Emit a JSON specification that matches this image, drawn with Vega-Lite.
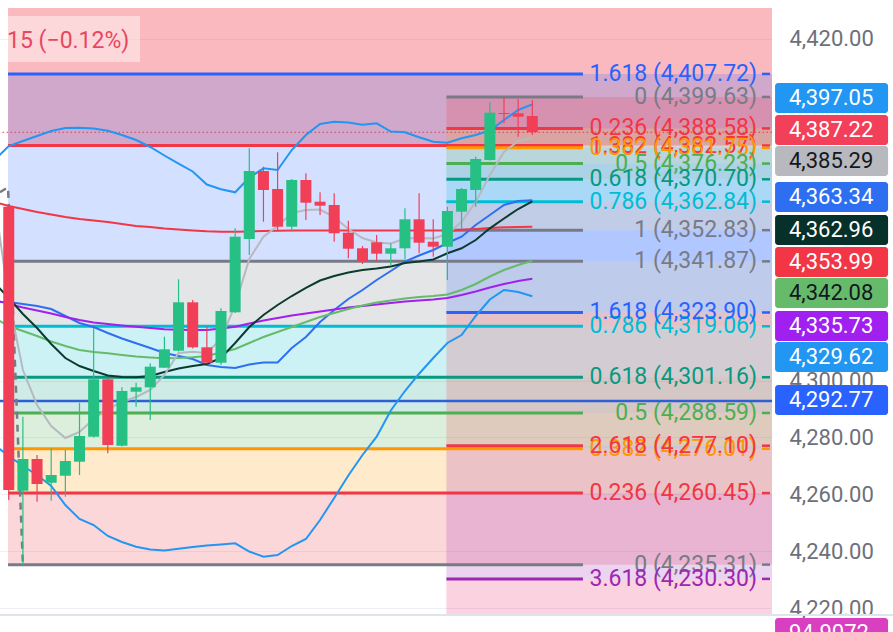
{
"$schema": "https://vega.github.io/schema/vega-lite/v6.json",
"width": 772, "height": 615, "padding": {"left": 0, "top": 0, "right": 121, "bottom": 17}, "autosize": {"type": "none"},
"background": "#ffffff",
"config": {"view": {"stroke": null}, "font": "Roboto"},
"resolve": {"scale": {"color": "independent"}, "axis": {"x": "independent", "y": "independent"}},
"datasets": {
"candles": [
{"i":0,"open":4361.07,"high":4361.67,"low":4258.01,"close":4261.53},
{"i":1,"open":4261.28,"high":4287.28,"low":4235.31,"close":4272.42},
{"i":2,"open":4272.42,"high":4273.83,"low":4257.42,"close":4263.64},
{"i":3,"open":4264.09,"high":4276.18,"low":4257.77,"close":4266.80},
{"i":4,"open":4266.55,"high":4275.58,"low":4259.17,"close":4271.72},
{"i":5,"open":4271.47,"high":4292.20,"low":4266.80,"close":4280.50},
{"i":6,"open":4280.26,"high":4318.45,"low":4279.98,"close":4300.43},
{"i":7,"open":4300.43,"high":4301.23,"low":4274.42,"close":4277.34},
{"i":8,"open":4277.09,"high":4297.61,"low":4276.81,"close":4296.31},
{"i":9,"open":4296.07,"high":4299.23,"low":4290.80,"close":4297.61},
{"i":10,"open":4297.61,"high":4306.05,"low":4286.12,"close":4304.85},
{"i":11,"open":4304.50,"high":4315.39,"low":4304.40,"close":4310.97},
{"i":12,"open":4310.47,"high":4335.56,"low":4310.19,"close":4327.48},
{"i":13,"open":4327.48,"high":4328.29,"low":4311.25,"close":4311.67},
{"i":14,"open":4311.67,"high":4318.91,"low":4305.98,"close":4306.26},
{"i":15,"open":4306.26,"high":4325.37,"low":4305.45,"close":4324.42},
{"i":16,"open":4323.97,"high":4353.48,"low":4323.72,"close":4350.53},
{"i":17,"open":4349.72,"high":4381.59,"low":4344.10,"close":4373.62},
{"i":18,"open":4373.62,"high":4375.13,"low":4355.80,"close":4366.94},
{"i":19,"open":4367.29,"high":4380.19,"low":4352.88,"close":4354.04},
{"i":20,"open":4354.04,"high":4370.80,"low":4352.18,"close":4370.45},
{"i":21,"open":4370.45,"high":4372.81,"low":4356.40,"close":4362.48},
{"i":22,"open":4362.83,"high":4366.13,"low":4358.16,"close":4361.42},
{"i":23,"open":4361.67,"high":4365.78,"low":4348.77,"close":4351.73},
{"i":24,"open":4351.94,"high":4356.15,"low":4342.94,"close":4346.31},
{"i":25,"open":4346.46,"high":4347.26,"low":4340.94,"close":4341.75},
{"i":26,"open":4348.56,"high":4351.13,"low":4341.75,"close":4344.56},
{"i":27,"open":4344.56,"high":4348.21,"low":4340.24,"close":4346.46},
{"i":28,"open":4346.46,"high":4360.51,"low":4342.59,"close":4356.64},
{"i":29,"open":4356.64,"high":4365.78,"low":4344.70,"close":4348.42},
{"i":30,"open":4348.77,"high":4356.64,"low":4343.50,"close":4347.02},
{"i":31,"open":4347.02,"high":4361.07,"low":4335.32,"close":4359.56},
{"i":32,"open":4359.32,"high":4367.64,"low":4353.48,"close":4367.29},
{"i":33,"open":4366.94,"high":4378.64,"low":4361.07,"close":4377.83},
{"i":34,"open":4377.48,"high":4397.75,"low":4377.30,"close":4394.10},
{"i":35,"open":4394.00,"high":4399.63,"low":4390.38,"close":4393.64},
{"i":36,"open":4393.89,"high":4398.81,"low":4385.67,"close":4392.69},
{"i":37,"open":4392.94,"high":4398.56,"low":4386.27,"close":4387.22}
],
"lines": [
{"i":-1,"bbU":4377.48,"bbL":4277.34,"bbM":4327.59,"red":4362.72,"blk":4334.26,"grn":4321.96,"pur":4328.29,"gry":4363.43},
{"i":0,"bbU":4382.40,"bbL":4273.48,"bbM":4327.59,"red":4361.32,"blk":4328.99,"grn":4319.15,"pur":4326.88,"gry":4328.29},
{"i":1,"bbU":4384.16,"bbL":4269.96,"bbM":4326.88,"red":4360.26,"blk":4323.37,"grn":4317.40,"pur":4325.65,"gry":4303.69},
{"i":2,"bbU":4385.91,"bbL":4266.80,"bbM":4326.18,"red":4359.21,"blk":4318.45,"grn":4315.64,"pur":4324.60,"gry":4291.40},
{"i":3,"bbU":4387.67,"bbL":4262.93,"bbM":4325.13,"red":4358.33,"blk":4312.83,"grn":4313.71,"pur":4323.55,"gry":4284.02},
{"i":4,"bbU":4388.72,"bbL":4256.26,"bbM":4322.67,"red":4357.45,"blk":4307.91,"grn":4312.13,"pur":4322.32,"gry":4279.80},
{"i":5,"bbU":4388.83,"bbL":4251.34,"bbM":4320.21,"red":4356.75,"blk":4305.10,"grn":4310.72,"pur":4321.26,"gry":4281.91},
{"i":6,"bbU":4388.55,"bbL":4249.23,"bbM":4318.80,"red":4356.22,"blk":4303.34,"grn":4310.02,"pur":4320.38,"gry":4286.48},
{"i":7,"bbU":4387.78,"bbL":4245.37,"bbM":4316.69,"red":4355.70,"blk":4301.76,"grn":4309.56,"pur":4319.86,"gry":4289.99},
{"i":8,"bbU":4386.27,"bbL":4243.26,"bbM":4314.76,"red":4354.99,"blk":4301.23,"grn":4308.96,"pur":4319.33,"gry":4292.45},
{"i":9,"bbU":4384.51,"bbL":4241.61,"bbM":4313.08,"red":4354.29,"blk":4301.13,"grn":4308.44,"pur":4318.91,"gry":4294.21},
{"i":10,"bbU":4382.05,"bbL":4240.62,"bbM":4311.42,"red":4353.94,"blk":4301.58,"grn":4308.09,"pur":4318.45,"gry":4296.67},
{"i":11,"bbU":4379.06,"bbL":4240.27,"bbM":4309.67,"red":4353.41,"blk":4302.99,"grn":4307.80,"pur":4317.99,"gry":4301.94},
{"i":12,"bbU":4376.25,"bbL":4240.90,"bbM":4308.61,"red":4353.06,"blk":4304.22,"grn":4307.91,"pur":4317.82,"gry":4309.67},
{"i":13,"bbU":4373.44,"bbL":4241.50,"bbM":4307.56,"red":4352.71,"blk":4305.10,"grn":4308.16,"pur":4317.75,"gry":4310.12},
{"i":14,"bbU":4368.87,"bbL":4242.03,"bbM":4305.45,"red":4352.43,"blk":4305.80,"grn":4308.61,"pur":4317.75,"gry":4309.67},
{"i":15,"bbU":4367.19,"bbL":4242.38,"bbM":4304.75,"red":4352.29,"blk":4307.91,"grn":4309.84,"pur":4318.28,"gry":4314.59},
{"i":16,"bbU":4366.13,"bbL":4242.80,"bbM":4304.40,"red":4352.29,"blk":4313.18,"grn":4311.07,"pur":4318.91,"gry":4326.53},
{"i":17,"bbU":4371.33,"bbL":4239.92,"bbM":4305.63,"red":4352.36,"blk":4318.80,"grn":4313.18,"pur":4320.03,"gry":4342.70},
{"i":18,"bbU":4374.56,"bbL":4238.09,"bbM":4306.33,"red":4352.53,"blk":4323.02,"grn":4315.29,"pur":4321.09,"gry":4350.53},
{"i":19,"bbU":4373.97,"bbL":4238.69,"bbM":4306.33,"red":4352.64,"blk":4326.53,"grn":4317.05,"pur":4321.96,"gry":4354.29},
{"i":20,"bbU":4380.99,"bbL":4241.85,"bbM":4311.42,"red":4352.71,"blk":4329.69,"grn":4318.80,"pur":4322.84,"gry":4358.86},
{"i":21,"bbU":4386.27,"bbL":4244.31,"bbM":4315.29,"red":4352.71,"blk":4332.51,"grn":4320.56,"pur":4323.55,"gry":4359.91},
{"i":22,"bbU":4390.13,"bbL":4250.99,"bbM":4320.56,"red":4352.71,"blk":4335.14,"grn":4322.32,"pur":4324.25,"gry":4360.09},
{"i":23,"bbU":4390.94,"bbL":4258.72,"bbM":4324.78,"red":4352.71,"blk":4336.72,"grn":4323.72,"pur":4324.95,"gry":4357.45},
{"i":24,"bbU":4390.66,"bbL":4266.62,"bbM":4328.64,"red":4352.71,"blk":4337.95,"grn":4325.13,"pur":4325.65,"gry":4353.24},
{"i":25,"bbU":4389.88,"bbL":4273.83,"bbM":4331.80,"red":4352.71,"blk":4338.83,"grn":4326.36,"pur":4326.18,"gry":4350.07},
{"i":26,"bbU":4390.38,"bbL":4280.26,"bbM":4335.32,"red":4352.71,"blk":4339.36,"grn":4327.41,"pur":4326.71,"gry":4348.49},
{"i":27,"bbU":4387.49,"bbL":4289.46,"bbM":4338.48,"red":4352.71,"blk":4340.06,"grn":4328.11,"pur":4327.23,"gry":4348.14},
{"i":28,"bbU":4387.21,"bbL":4296.31,"bbM":4341.75,"red":4352.71,"blk":4341.29,"grn":4328.82,"pur":4327.76,"gry":4349.90},
{"i":29,"bbU":4385.46,"bbL":4302.39,"bbM":4343.92,"red":4352.71,"blk":4341.82,"grn":4329.34,"pur":4328.11,"gry":4350.07},
{"i":30,"bbU":4383.91,"bbL":4307.91,"bbM":4345.86,"red":4352.71,"blk":4342.52,"grn":4329.69,"pur":4328.47,"gry":4349.90},
{"i":31,"bbU":4383.56,"bbL":4313.18,"bbM":4348.32,"red":4352.71,"blk":4344.70,"grn":4330.22,"pur":4328.99,"gry":4351.48},
{"i":32,"bbU":4385.11,"bbL":4315.99,"bbM":4350.53,"red":4352.99,"blk":4346.46,"grn":4331.80,"pur":4330.05,"gry":4355.70},
{"i":33,"bbU":4386.27,"bbL":4322.67,"bbM":4354.64,"red":4353.24,"blk":4349.37,"grn":4333.91,"pur":4331.28,"gry":4362.72},
{"i":34,"bbU":4387.85,"bbL":4328.47,"bbM":4358.16,"red":4353.59,"blk":4353.48,"grn":4336.55,"pur":4332.68,"gry":4372.21},
{"i":35,"bbU":4391.54,"bbL":4331.80,"bbM":4361.67,"red":4353.83,"blk":4356.93,"grn":4338.83,"pur":4333.91,"gry":4380.29},
{"i":36,"bbU":4395.05,"bbL":4331.10,"bbM":4363.07,"red":4353.91,"blk":4360.26,"grn":4340.59,"pur":4334.97,"gry":4384.16},
{"i":37,"bbU":4397.05,"bbL":4329.62,"bbM":4363.34,"red":4353.99,"blk":4362.96,"grn":4342.08,"pur":4335.73,"gry":4385.29}
],
"bands": [
{"fib":"A","start":-0.05,"lo":4235.31,"hi":4260.45,"lvl":"0.236"},
{"fib":"A","start":-0.05,"lo":4260.45,"hi":4276.01,"lvl":"0.382"},
{"fib":"A","start":-0.05,"lo":4276.01,"hi":4288.59,"lvl":"0.5"},
{"fib":"A","start":-0.05,"lo":4288.59,"hi":4301.16,"lvl":"0.618"},
{"fib":"A","start":-0.05,"lo":4301.16,"hi":4319.06,"lvl":"0.786"},
{"fib":"A","start":-0.05,"lo":4319.06,"hi":4341.87,"lvl":"1"},
{"fib":"A","start":-0.05,"lo":4341.87,"hi":4407.72,"lvl":"1.618"},
{"fib":"B","start":30.93,"lo":4388.58,"hi":4399.63,"lvl":"0.236"},
{"fib":"B","start":30.93,"lo":4381.75,"hi":4388.58,"lvl":"0.382"},
{"fib":"B","start":30.93,"lo":4376.23,"hi":4381.75,"lvl":"0.5"},
{"fib":"B","start":30.93,"lo":4370.70,"hi":4376.23,"lvl":"0.618"},
{"fib":"B","start":30.93,"lo":4362.84,"hi":4370.70,"lvl":"0.786"},
{"fib":"B","start":30.93,"lo":4352.83,"hi":4362.84,"lvl":"1"},
{"fib":"B","start":30.93,"lo":4323.90,"hi":4352.83,"lvl":"1.618"},
{"fib":"B","start":30.93,"lo":4277.10,"hi":4323.90,"lvl":"2.618"},
{"fib":"B","start":30.93,"lo":4230.30,"hi":4277.10,"lvl":"3.618"},
{"fib":"B","start":30.93,"lo":4200.00,"hi":4230.30,"lvl":"4.236"}
],
"levels": [
{"fib":"A","start":-0.05,"price":4235.31,"lvl":"0","label":"0 (4,235.31)"},
{"fib":"A","start":-0.05,"price":4260.45,"lvl":"0.236","label":"0.236 (4,260.45)"},
{"fib":"A","start":-0.05,"price":4276.01,"lvl":"0.382","label":"0.382 (4,276.01)"},
{"fib":"A","start":-0.05,"price":4288.59,"lvl":"0.5","label":"0.5 (4,288.59)"},
{"fib":"A","start":-0.05,"price":4301.16,"lvl":"0.618","label":"0.618 (4,301.16)"},
{"fib":"A","start":-0.05,"price":4319.06,"lvl":"0.786","label":"0.786 (4,319.06)"},
{"fib":"A","start":-0.05,"price":4341.87,"lvl":"1","label":"1 (4,341.87)"},
{"fib":"A","start":-0.05,"price":4382.57,"lvl":"1.382","label":"1.382 (4,382.57)"},
{"fib":"A","start":-0.05,"price":4407.72,"lvl":"1.618","label":"1.618 (4,407.72)"},
{"fib":"B","start":30.93,"price":4399.63,"lvl":"0","label":"0 (4,399.63)"},
{"fib":"B","start":30.93,"price":4388.58,"lvl":"0.236","label":"0.236 (4,388.58)"},
{"fib":"B","start":30.93,"price":4381.75,"lvl":"0.382","label":"0.382 (4,381.75)"},
{"fib":"B","start":30.93,"price":4376.23,"lvl":"0.5","label":"0.5 (4,376.23)"},
{"fib":"B","start":30.93,"price":4370.70,"lvl":"0.618","label":"0.618 (4,370.70)"},
{"fib":"B","start":30.93,"price":4362.84,"lvl":"0.786","label":"0.786 (4,362.84)"},
{"fib":"B","start":30.93,"price":4352.83,"lvl":"1","label":"1 (4,352.83)"},
{"fib":"B","start":30.93,"price":4323.90,"lvl":"1.618","label":"1.618 (4,323.90)"},
{"fib":"B","start":30.93,"price":4277.10,"lvl":"2.618","label":"2.618 (4,277.10)"},
{"fib":"B","start":30.93,"price":4230.30,"lvl":"3.618","label":"3.618 (4,230.30)"}
],
"tags": [
{"t":"4,397.05","pos":4399.27,"k":"bbU"},
{"t":"4,387.22","pos":4388.02,"k":"price"},
{"t":"4,385.29","pos":4377.13,"k":"gry"},
{"t":"4,363.34","pos":4364.48,"k":"bbM"},
{"t":"4,362.96","pos":4352.88,"k":"blk"},
{"t":"4,353.99","pos":4341.64,"k":"red"},
{"t":"4,342.08","pos":4330.75,"k":"grn"},
{"t":"4,335.73","pos":4319.15,"k":"pur"},
{"t":"4,329.62","pos":4308.26,"k":"bbL"},
{"t":"4,292.77","pos":4293.15,"k":"hline"},
{"t":"94.9072","pos":4211.28,"k":"osc"}
]
},
"layer": [
{
"data": {"values": [{"lo": 4382.57, "hi": 4430.89, "start": -0.05}]},
"mark": {"type": "rect", "color": "#f23645", "opacity": 0.35, "clip": true},
"encoding": {
"x": {"field": "start", "type": "quantitative", "scale": {"domain": [-0.6184, 53.94], "nice": false, "zero": false, "padding": 0}, "axis": null},
"x2": {"datum": 54.5},
"y": {"field": "hi", "type": "quantitative", "scale": {"domain": [4217.61, 4433.7], "nice": false, "zero": false},
"axis": {"orient": "right", "values": [4220,4240,4260,4280,4300,4420], "format": ",.2f", "ticks": false, "domain": false, "grid": true, "gridColor": "#eef0f4", "labelFont": "Roboto", "labelFontSize": 22, "labelColor": "#6d7079", "labelPadding": 17, "labelOverlap": false, "labelBound": false, "labelFlush": false, "title": null}},
"y2": {"field": "lo"}
}
},
{
"data": {"name": "bands"},
"mark": {"type": "rect", "opacity": 0.2, "clip": true},
"encoding": {
"x": {"field": "start", "type": "quantitative", "scale": {"domain": [-0.6184, 53.94], "nice": false, "zero": false, "padding": 0}, "axis": null},
"x2": {"datum": 54.5},
"y": {"field": "hi", "type": "quantitative", "scale": {"domain": [4217.61, 4433.7], "nice": false, "zero": false}, "axis": null},
"y2": {"field": "lo"},
"color": {"field": "lvl", "type": "nominal", "legend": null, "scale": {"domain": ["0","0.236","0.382","0.5","0.618","0.786","1","1.382","1.618","2.618","3.618","4.236"], "range": ["#787b86","#f23645","#ff9800","#4caf50","#089981","#00bcd4","#787b86","#f23645","#2962ff","#f23645","#9c27b0","#e91e63"]}}
}
},
{
"data": {"values": [{"a": -0.05, "b": 9.28, "lo": 4411.9, "hi": 4428.1}]},
"mark": {"type": "rect", "color": "#ffffff", "opacity": 0.45, "clip": true},
"encoding": {
"x": {"field": "a", "type": "quantitative", "scale": {"domain": [-0.6184, 53.94], "nice": false, "zero": false, "padding": 0}, "axis": null},
"x2": {"field": "b"},
"y": {"field": "hi", "type": "quantitative", "scale": {"domain": [4217.61, 4433.7], "nice": false, "zero": false}, "axis": null},
"y2": {"field": "lo"}
}
},
{
"data": {"values": [{"t": "15 (−0.12%)", "i": -0.12, "p": 4419.3}]},
"mark": {"type": "text", "align": "left", "baseline": "middle", "font": "Roboto", "fontSize": 23, "color": "#e8475f", "clip": true},
"encoding": {
"x": {"field": "i", "type": "quantitative", "scale": {"domain": [-0.6184, 53.94], "nice": false, "zero": false, "padding": 0}, "axis": null},
"y": {"field": "p", "type": "quantitative", "scale": {"domain": [4217.61, 4433.7], "nice": false, "zero": false}, "axis": null},
"text": {"field": "t"}
}
},
{
"data": {"name": "levels"},
"mark": {"type": "rule", "strokeWidth": 3},
"encoding": {
"x": {"field": "start", "type": "quantitative", "scale": {"domain": [-0.6184, 53.94], "nice": false, "zero": false, "padding": 0}, "axis": null},
"x2": {"datum": 40.58},
"y": {"field": "price", "type": "quantitative", "scale": {"domain": [4217.61, 4433.7], "nice": false, "zero": false}, "axis": null},
"color": {"field": "lvl", "type": "nominal", "legend": null, "scale": {"domain": ["0","0.236","0.382","0.5","0.618","0.786","1","1.382","1.618","2.618","3.618","4.236"], "range": ["#787b86","#f23645","#ff9800","#4caf50","#089981","#00bcd4","#787b86","#f23645","#2962ff","#f23645","#9c27b0","#e91e63"]}}
}
},
{
"data": {"name": "levels"},
"mark": {"type": "rule", "strokeWidth": 2.5},
"encoding": {
"x": {"datum": 53.23, "type": "quantitative", "scale": {"domain": [-0.6184, 53.94], "nice": false, "zero": false, "padding": 0}, "axis": null},
"x2": {"datum": 53.8},
"y": {"field": "price", "type": "quantitative", "scale": {"domain": [4217.61, 4433.7], "nice": false, "zero": false}, "axis": null},
"color": {"field": "lvl", "type": "nominal", "legend": null, "scale": {"domain": ["0","0.236","0.382","0.5","0.618","0.786","1","1.382","1.618","2.618","3.618","4.236"], "range": ["#787b86","#f23645","#ff9800","#4caf50","#089981","#00bcd4","#787b86","#f23645","#2962ff","#f23645","#9c27b0","#e91e63"]}}
}
},
{
"data": {"name": "levels"},
"mark": {"type": "text", "align": "right", "baseline": "middle", "font": "Roboto", "fontSize": 23},
"encoding": {
"x": {"datum": 52.88, "type": "quantitative", "scale": {"domain": [-0.6184, 53.94], "nice": false, "zero": false, "padding": 0}, "axis": null},
"y": {"field": "price", "type": "quantitative", "scale": {"domain": [4217.61, 4433.7], "nice": false, "zero": false}, "axis": null},
"text": {"field": "label"},
"color": {"field": "lvl", "type": "nominal", "legend": null, "scale": {"domain": ["0","0.236","0.382","0.5","0.618","0.786","1","1.382","1.618","2.618","3.618","4.236"], "range": ["#787b86","#f23645","#ff9800","#4caf50","#089981","#00bcd4","#787b86","#f23645","#2962ff","#f23645","#9c27b0","#e91e63"]}}
}
},
{
"data": {"values": [{"p": 4292.77}]},
"mark": {"type": "rule", "color": "#2f5fd6", "strokeWidth": 2.5, "clip": true},
"encoding": {
"x": {"datum": -1, "type": "quantitative", "scale": {"domain": [-0.6184, 53.94], "nice": false, "zero": false, "padding": 0}, "axis": null},
"x2": {"datum": 54.5},
"y": {"field": "p", "type": "quantitative", "scale": {"domain": [4217.61, 4433.7], "nice": false, "zero": false}, "axis": null}
}
},
{
"data": {"values": [{"p": 4387.22}]},
"mark": {"type": "rule", "color": "#f23645", "strokeWidth": 1, "strokeDash": [1.5, 2.5], "clip": true},
"encoding": {
"x": {"datum": -1, "type": "quantitative", "scale": {"domain": [-0.6184, 53.94], "nice": false, "zero": false, "padding": 0}, "axis": null},
"x2": {"datum": 54.5},
"y": {"field": "p", "type": "quantitative", "scale": {"domain": [4217.61, 4433.7], "nice": false, "zero": false}, "axis": null}
}
},
{
"data": {"values": [{"i": -0.62, "p": 4366.2}, {"i": -0.05, "p": 4367.9}, {"i": 1, "p": 4235.31}]},
"mark": {"type": "line", "color": "#787b86", "strokeWidth": 2.5, "strokeDash": [7, 6], "clip": true},
"encoding": {
"x": {"field": "i", "type": "quantitative", "scale": {"domain": [-0.6184, 53.94], "nice": false, "zero": false, "padding": 0}, "axis": null},
"y": {"field": "p", "type": "quantitative", "scale": {"domain": [4217.61, 4433.7], "nice": false, "zero": false}, "axis": null}
}
},
{
"data": {"name": "lines"},
"transform": [{"fold": ["bbU", "bbL", "bbM", "red", "pur", "grn", "blk", "gry"], "as": ["s", "v"]}],
"mark": {"type": "line", "strokeWidth": 2, "clip": true},
"encoding": {
"x": {"field": "i", "type": "quantitative", "scale": {"domain": [-0.6184, 53.94], "nice": false, "zero": false, "padding": 0}, "axis": null},
"y": {"field": "v", "type": "quantitative", "scale": {"domain": [4217.61, 4433.7], "nice": false, "zero": false}, "axis": null},
"detail": {"field": "s"},
"color": {"field": "s", "type": "nominal", "legend": null, "scale": {"domain": ["bbU", "bbL", "bbM", "red", "pur", "grn", "blk", "gry"], "range": ["#2196f3", "#2196f3", "#2e6ff2", "#f23645", "#a020f0", "#66bb6a", "#0b3b2e", "#b7b9bf"]}}
}
},
{
"data": {"name": "candles"},
"mark": {"type": "rule", "strokeWidth": 1.2, "clip": true},
"encoding": {
"x": {"field": "i", "type": "quantitative", "scale": {"domain": [-0.6184, 53.94], "nice": false, "zero": false, "padding": 0}, "axis": null},
"y": {"field": "low", "type": "quantitative", "scale": {"domain": [4217.61, 4433.7], "nice": false, "zero": false}, "axis": null},
"y2": {"field": "high"},
"color": {"condition": {"test": "datum.close >= datum.open", "value": "#26bf84"}, "value": "#f23f58"}
}
},
{
"data": {"name": "candles"},
"mark": {"type": "bar", "size": 11, "clip": true},
"encoding": {
"x": {"field": "i", "type": "quantitative", "scale": {"domain": [-0.6184, 53.94], "nice": false, "zero": false, "padding": 0}, "axis": null},
"y": {"field": "open", "type": "quantitative", "scale": {"domain": [4217.61, 4433.7], "nice": false, "zero": false}, "axis": null},
"y2": {"field": "close"},
"color": {"condition": {"test": "datum.close >= datum.open", "value": "#26bf84"}, "value": "#f23f58"}
}
},
{
"data": {"values": [{"p": 4217.61}]},
"mark": {"type": "rule", "color": "#e0e3eb", "strokeWidth": 2},
"encoding": {
"x": {"datum": -1, "type": "quantitative", "scale": {"domain": [-0.6184, 53.94], "nice": false, "zero": false, "padding": 0}, "axis": null},
"x2": {"datum": 63},
"y": {"field": "p", "type": "quantitative", "scale": {"domain": [4217.61, 4433.7], "nice": false, "zero": false}, "axis": null}
}
},
{
"data": {"name": "tags"},
"mark": {"type": "tick", "orient": "horizontal", "size": 113, "thickness": 30, "cornerRadius": 3, "opacity": 1},
"encoding": {
"x": {"datum": 58.15, "type": "quantitative", "scale": {"domain": [-0.6184, 53.94], "nice": false, "zero": false, "padding": 0}, "axis": null},
"y": {"field": "pos", "type": "quantitative", "scale": {"domain": [4217.61, 4433.7], "nice": false, "zero": false}, "axis": null},
"color": {"field": "k", "type": "nominal", "legend": null, "scale": {"domain": ["bbU", "price", "gry", "bbM", "blk", "red", "grn", "pur", "bbL", "hline", "osc"], "range": ["#2196f3", "#f2405a", "#b7b9bf", "#2e6ff2", "#06302a", "#f23645", "#66bb6a", "#a020f0", "#2196f3", "#2962ff", "#d83fc1"]}}
}
},
{
"data": {"name": "tags"},
"mark": {"type": "text", "align": "left", "baseline": "middle", "font": "Roboto", "fontSize": 22},
"encoding": {
"x": {"datum": 55.14, "type": "quantitative", "scale": {"domain": [-0.6184, 53.94], "nice": false, "zero": false, "padding": 0}, "axis": null},
"y": {"field": "pos", "type": "quantitative", "scale": {"domain": [4217.61, 4433.7], "nice": false, "zero": false}, "axis": null},
"text": {"field": "t"},
"color": {"field": "k", "type": "nominal", "legend": null, "scale": {"domain": ["bbU", "price", "gry", "bbM", "blk", "red", "grn", "pur", "bbL", "hline", "osc"], "range": ["#ffffff", "#ffffff", "#131722", "#ffffff", "#ffffff", "#ffffff", "#131722", "#ffffff", "#ffffff", "#ffffff", "#ffffff"]}}
}
}
]
}
